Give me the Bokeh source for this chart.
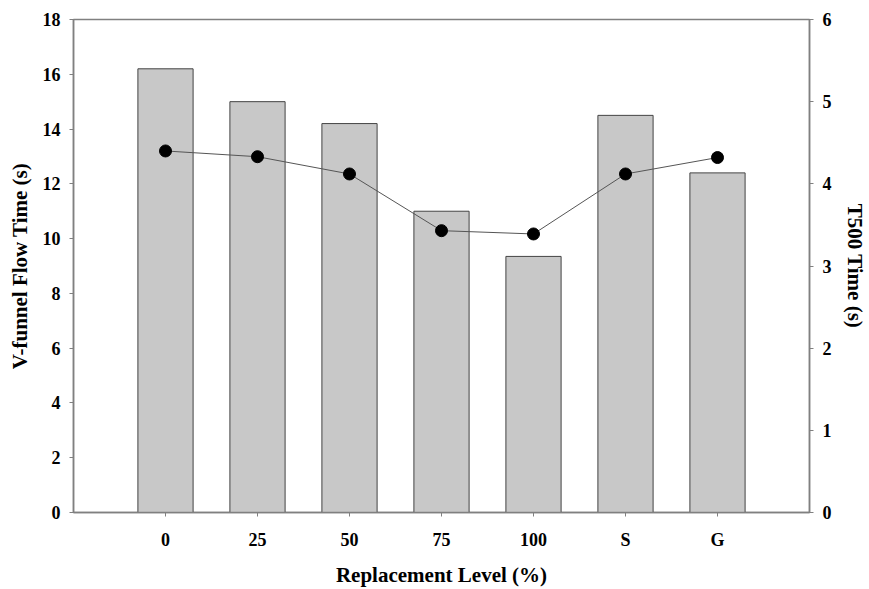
from bokeh.plotting import figure
from bokeh.models import (ColumnDataSource, FactorRange, Range1d, LinearAxis,
                          FixedTicker)
from bokeh.embed import file_html
from bokeh.resources import INLINE

categories = ["0", "25", "50", "75", "100", "S", "G"]
vfunnel = [16.2, 15.0, 14.2, 11.0, 9.35, 14.5, 12.4]
t500 = [4.40, 4.33, 4.12, 3.43, 3.39, 4.12, 4.32]
left_ticks = [0, 2, 4, 6, 8, 10, 12, 14, 16, 18]
right_ticks = [0, 1, 2, 3, 4, 5, 6]

FONT = "Liberation Serif"
AXC = "#808080"

src = ColumnDataSource(dict(cat=categories, v=vfunnel, t=t500))

p = figure(width=869, height=589, output_backend="svg", toolbar_location=None,
           x_range=FactorRange(*categories, range_padding=1 / 7,
                               range_padding_units="percent"),
           y_range=Range1d(0, 18),
           min_border_left=73, min_border_right=57, min_border_top=19,
           min_border_bottom=77)
p.extra_y_ranges = {"t": Range1d(0, 6)}

p.vbar(x="cat", top="v", width=0.6, source=src, fill_color="#c8c8c8",
       line_color="#444444", line_width=1)
p.line(x="cat", y="t", source=src, y_range_name="t", line_color="#555555",
       line_width=1)
p.scatter(x="cat", y="t", source=src, y_range_name="t", size=12,
          fill_color="black", line_color="black")

p.grid.visible = False
p.outline_line_color = AXC
p.outline_line_width = 1.5
p.background_fill_color = "white"
p.border_fill_color = "white"

def style(ax, tick_standoff, label_standoff):
    ax.axis_line_color = AXC
    ax.axis_line_width = 1.5
    ax.major_tick_line_color = AXC
    ax.major_tick_out = 4
    ax.major_tick_in = 0
    ax.minor_tick_line_color = None
    ax.major_label_text_font = FONT
    ax.major_label_text_font_style = "bold"
    ax.major_label_text_font_size = "18px"
    ax.major_label_text_color = "black"
    ax.major_label_standoff = tick_standoff
    ax.axis_label_text_font = FONT
    ax.axis_label_text_font_style = "bold"
    ax.axis_label_text_font_size = "21px"
    ax.axis_label_text_color = "black"
    ax.axis_label_standoff = label_standoff

xa = p.xaxis[0]
style(xa, 13, 10)
xa.axis_label = "Replacement Level (%)"

ya = p.yaxis[0]
ya.ticker = FixedTicker(ticks=left_ticks)
style(ya, 9, 8)
ya.axis_label = "V-funnel Flow Time (s)"

ra = LinearAxis(y_range_name="t", ticker=FixedTicker(ticks=right_ticks))
style(ra, 9, 8)
ra.axis_label = "T500 Time (s)"
p.add_layout(ra, "right")

open("out.html", "w").write(file_html(p, INLINE))
